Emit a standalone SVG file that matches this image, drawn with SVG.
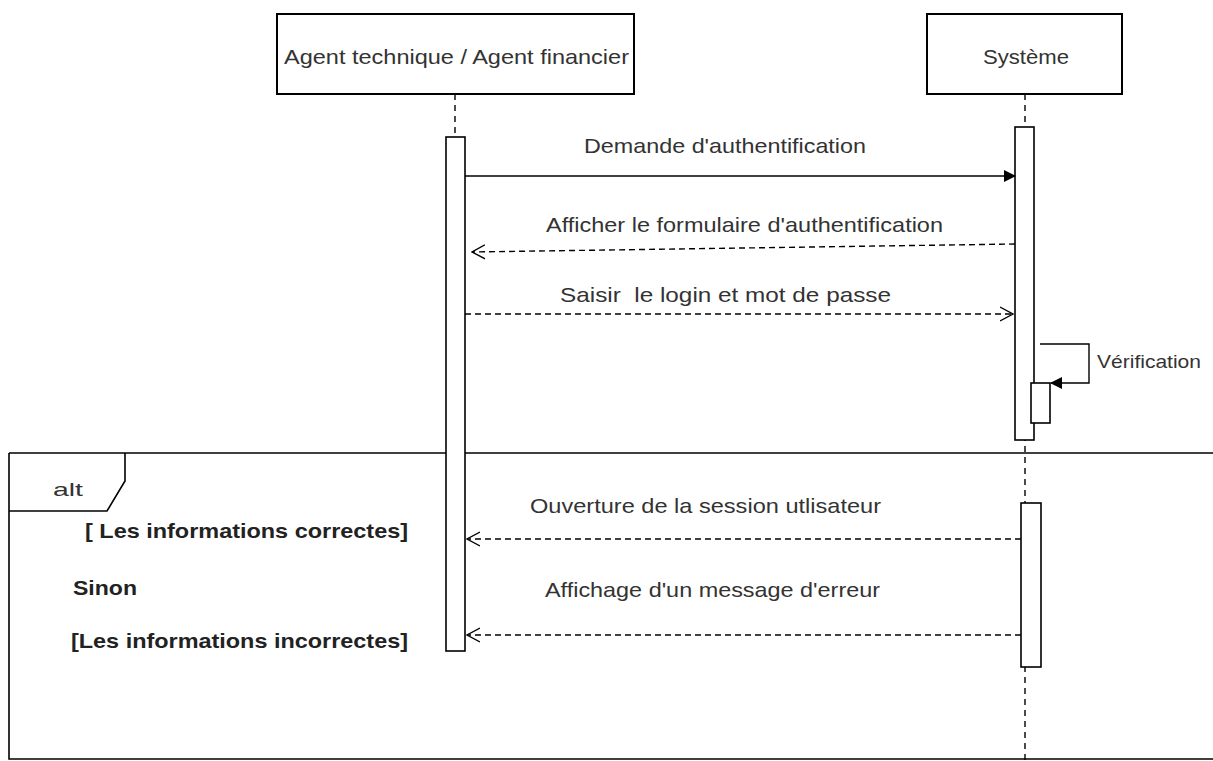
<svg xmlns="http://www.w3.org/2000/svg" width="1213" height="761" viewBox="0 0 1213 761">
  <style>
    .box { fill: #ffffff; stroke: #000000; stroke-width: 2; }
    .bar { fill: #ffffff; stroke: #000000; stroke-width: 1.6; }
    .life { stroke: #000000; stroke-width: 1.4; stroke-dasharray: 6 5; fill: none; }
    .msg { stroke: #000000; stroke-width: 1.4; fill: none; }
    .ret { stroke: #000000; stroke-width: 1.4; fill: none; stroke-dasharray: 6 4; }
    .frame { stroke: #000000; stroke-width: 1.6; fill: none; }
    text { font-family: "Liberation Sans", Arial, sans-serif; font-size: 21px; fill: #333333; }
    .c { text-anchor: middle; }
    .g { font-weight: bold; fill: #222222; }
  </style>
  <defs>
    <marker id="solidHead" viewBox="0 0 12 12" refX="11" refY="6" markerWidth="12" markerHeight="12" markerUnits="userSpaceOnUse" orient="auto">
      <path d="M0,0 L12,6 L0,12 Z" fill="#000000"/>
    </marker>
    <marker id="openHead" viewBox="0 0 14 16" refX="13" refY="8" markerWidth="14" markerHeight="16" markerUnits="userSpaceOnUse" orient="auto">
      <path d="M0,1 L13,8 L0,15" fill="none" stroke="#000000" stroke-width="1.4"/>
    </marker>
  </defs>

  <!-- combined fragment -->
  <g id="alt-fragment">
    <path class="frame" d="M9,453 H1213 M9,453 V759 H1213"/>
    <path class="frame" d="M9,511 H107 L125,481 V453"/>
    <text x="53" y="496" style="font-size:19px" textLength="30" lengthAdjust="spacingAndGlyphs">alt</text>
    <text class="g" x="85" y="538" textLength="323" lengthAdjust="spacingAndGlyphs">[ Les informations correctes]</text>
    <text class="g" x="73" y="595" textLength="64" lengthAdjust="spacingAndGlyphs">Sinon</text>
    <text class="g" x="71" y="648" textLength="337" lengthAdjust="spacingAndGlyphs">[Les informations incorrectes]</text>
  </g>

  <!-- lifelines -->
  <g id="agent">
    <line class="life" x1="455" y1="94" x2="455" y2="137"/>
    <rect class="box" x="277" y="14" width="357" height="80"/>
    <text x="284" y="64" textLength="345" lengthAdjust="spacingAndGlyphs">Agent technique / Agent financier</text>
    <rect class="bar" x="446" y="137" width="19" height="514"/>
  </g>

  <g id="systeme">
    <line class="life" x1="1025" y1="94" x2="1025" y2="761"/>
    <rect class="box" x="927" y="14" width="195" height="80"/>
    <text x="983" y="64" textLength="86" lengthAdjust="spacingAndGlyphs">Système</text>
    <rect class="bar" x="1015" y="127" width="19" height="313"/>
    <rect class="bar" x="1031" y="383" width="19" height="40"/>
    <rect class="bar" x="1021" y="503" width="20" height="164"/>
  </g>

  <!-- messages -->
  <g id="connectors">
    <line class="msg" x1="465" y1="176" x2="1015" y2="176" marker-end="url(#solidHead)"/>
    <text x="584" y="153" textLength="282" lengthAdjust="spacingAndGlyphs">Demande d'authentification</text>

    <line class="ret" x1="1015" y1="244" x2="472" y2="252" marker-end="url(#openHead)"/>
    <text x="546" y="232" textLength="397" lengthAdjust="spacingAndGlyphs">Afficher le formulaire d'authentification</text>

    <line class="ret" x1="465" y1="314" x2="1013" y2="314" marker-end="url(#openHead)"/>
    <text x="560" y="302" textLength="331" lengthAdjust="spacingAndGlyphs" xml:space="preserve">Saisir  le login et mot de passe</text>

    <path class="msg" d="M1040,344 H1089 V383 H1051" marker-end="url(#solidHead)"/>
    <text x="1097" y="368" style="font-size:19px" textLength="104" lengthAdjust="spacingAndGlyphs">Vérification</text>

    <line class="ret" x1="1021" y1="539" x2="467" y2="539" marker-end="url(#openHead)"/>
    <text x="530" y="513" textLength="351" lengthAdjust="spacingAndGlyphs">Ouverture de la session utlisateur</text>

    <line class="ret" x1="1021" y1="635" x2="467" y2="635" marker-end="url(#openHead)"/>
    <text x="545" y="597" textLength="335" lengthAdjust="spacingAndGlyphs">Affichage d'un message d'erreur</text>
  </g>
</svg>
